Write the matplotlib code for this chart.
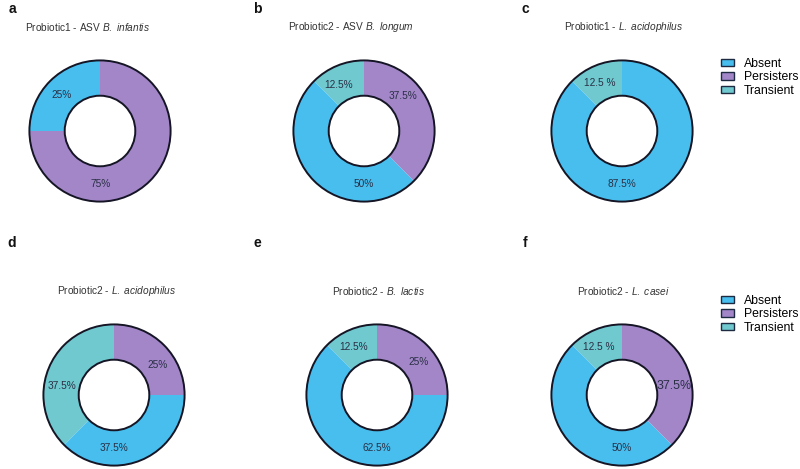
import matplotlib.pyplot as plt
from matplotlib.patches import Patch, Circle
import numpy as np

plt.rcParams['font.family'] = ['Liberation Sans', 'DejaVu Sans']
plt.rcParams['mathtext.fontset'] = 'custom'
plt.rcParams['mathtext.rm'] = 'Liberation Sans'
plt.rcParams['mathtext.it'] = 'Liberation Sans:italic'

# segment order, drawn counter-clockwise from 12 o'clock
categories = ["Transient", "Absent", "Persisters"]
colors = {"Absent": "#47BEEE", "Persisters": "#A286C8", "Transient": "#6FC9CE"}

panel_letters = ["a", "b", "c", "d", "e", "f"]
titles = [
    r"Probiotic1 - ASV $\it{B.\ infantis}$",
    r"Probiotic2 - ASV $\it{B.\ longum}$",
    r"Probiotic1 - $\it{L.\ acidophilus}$",
    r"Probiotic2 - $\it{L.\ acidophilus}$",
    r"Probiotic2 - $\it{B.\ lactis}$",
    r"Probiotic2 - $\it{L.\ casei}$",
]
# percentages for [Transient, Absent, Persisters]
values = [
    [0, 25, 75],
    [12.5, 50, 37.5],
    [12.5, 87.5, 0],
    [37.5, 37.5, 25],
    [12.5, 62.5, 25],
    [12.5, 50, 37.5],
]
label_texts = [
    ["", "25%", "75%"],
    ["12.5%", "50%", "37.5%"],
    ["12.5 %", "87.5%", ""],
    ["37.5%", "37.5%", "25%"],
    ["12.5%", "62.5%", "25%"],
    ["12.5 %", "50%", "37.5%"],
]

# layout (pixels of an 800x469 canvas)
W, H = 800, 469
R = 72
centers = [(100, 131), (364, 131), (622, 131), (114, 395), (377, 395), (622, 395)]
title_pos = [(88, 27), (351, 27), (624, 27), (117, 291), (378, 291), (623, 291)]
letter_pos = [(12, 9), (257, 9), (525, 9), (12, 243), (257, 243), (525, 243)]
# label angle (deg), hand placed like the original
label_ang = [
    [None, 137, 271],
    [119, 270, 42],
    [115, 270, None],
    [170, 270, 35],
    [116, 270, 38],
    [116, 270, 10],
]
label_rad = 0.75

fig = plt.figure(figsize=(8, 4.69), dpi=100)

for i in range(6):
    cx, cy = centers[i]
    ax = fig.add_axes([(cx - R) / W, 1 - (cy + R) / H, 2 * R / W, 2 * R / H])
    vals = values[i]
    ax.pie(vals, colors=[colors[c] for c in categories], startangle=90,
           counterclock=True, radius=1,
           wedgeprops=dict(width=0.5, edgecolor='none', linewidth=0))
    ax.add_patch(Circle((0, 0), 1, fill=False, edgecolor='#151525', lw=1.4))
    ax.add_patch(Circle((0, 0), 0.5, fill=False, edgecolor='#151525', lw=1.4))
    ax.set_xlim(-1.02, 1.02)
    ax.set_ylim(-1.02, 1.02)
    ax.set_aspect('equal')
    ax.axis('off')
    for j, txt in enumerate(label_texts[i]):
        if not txt:
            continue
        a = np.deg2rad(label_ang[i][j])
        fs = 8.9 if (i == 5 and txt == "37.5%") else 7.3
        ax.text(label_rad * np.cos(a), label_rad * np.sin(a), txt,
                ha='center', va='center', fontsize=fs, color='#2a2f45')

    tx, ty = title_pos[i]
    fig.text(tx / W, 1 - ty / H, titles[i], ha='center', va='center',
             fontsize=7.3, color='#333333')
    lx, ly = letter_pos[i]
    fig.text(lx / W, 1 - ly / H, panel_letters[i], ha='center', va='center',
             fontsize=10, fontweight='bold', color='#111111')

handles = [Patch(facecolor=colors[c], edgecolor='#1d2a40', linewidth=1.0, label=c)
           for c in ["Absent", "Persisters", "Transient"]]
for ytop in (58, 295):
    fig.legend(handles=handles, loc='upper left',
               bbox_to_anchor=(721 / W, 1 - ytop / H), frameon=False,
               fontsize=8.8, handlelength=1.1, handleheight=0.55,
               handletextpad=0.8, labelspacing=0.12, borderpad=0,
               borderaxespad=0)

fig.savefig('out.png', dpi=100)
